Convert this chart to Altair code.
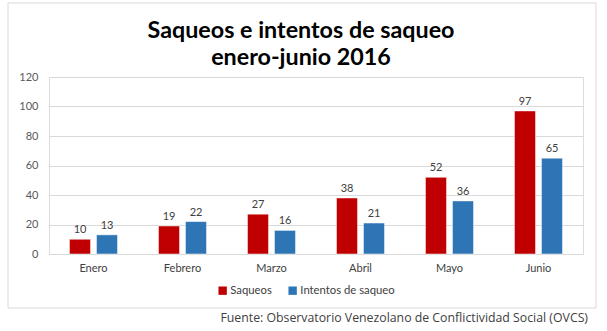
import altair as alt
import pandas as pd

months = ["Enero", "Febrero", "Marzo", "Abril", "Mayo", "Junio"]
saqueos = [10, 19, 27, 38, 52, 97]
intentos = [13, 22, 16, 21, 36, 65]
series = ["Saqueos", "Intentos de saqueo"]
colors = ["#C00000", "#2E75B6"]
y_ticks = [0, 20, 40, 60, 80, 100, 120]
title_lines = ["Saqueos e intentos de saqueo", "enero-junio 2016"]
source_text = "Fuente: Observatorio Venezolano de Conflictividad Social (OVCS)"

rows = []
for i, m in enumerate(months):
    rows.append({"mes": m, "serie": series[0], "valor": saqueos[i]})
    rows.append({"mes": m, "serie": series[1], "valor": intentos[i]})
df = pd.DataFrame(rows)

FONT = "Lato"

x = alt.X("mes:N", sort=months, title=None,
          scale=alt.Scale(paddingInner=0.46, paddingOuter=0.23),
          axis=alt.Axis(labelAngle=0, domain=False, ticks=False, labelPadding=8,
                        labelFontSize=11, labelColor="#404040", labelFont=FONT))
xoff = alt.XOffset("serie:N", sort=series, scale=alt.Scale(paddingInner=0.22))
y = alt.Y("valor:Q", title=None,
          scale=alt.Scale(domain=[0, 120], nice=False),
          axis=alt.Axis(values=y_ticks, domain=False, ticks=False, labelPadding=11,
                        gridColor="#D9D9D9", labelFontSize=11, labelColor="#595959",
                        labelFont=FONT))
color = alt.Color("serie:N", sort=series,
                  scale=alt.Scale(domain=series, range=colors),
                  legend=alt.Legend(title=None, orient="none", direction="horizontal",
                                    legendX=168, legendY=208, symbolType="square",
                                    symbolSize=70, symbolStrokeWidth=0,
                                    labelFontSize=11.3, labelColor="#404040",
                                    labelFont=FONT, columnPadding=15, symbolOffset=0,
                                    labelOffset=2))

base = alt.Chart(df)
bars = base.mark_bar(stroke="white", strokeWidth=0.5).encode(x=x, xOffset=xoff, y=y, color=color)
labels = base.mark_text(dy=-9, fontSize=11, color="#404040", font=FONT).encode(
    x=x, xOffset=xoff, y=y, text="valor:Q")

border = alt.Chart(alt.Data(values=[{"a": 1}])).mark_rect(
    fill=None, stroke="#D9D9D9", strokeWidth=1).encode(
    x=alt.value(-41), x2=alt.value(547), y=alt.value(-74), y2=alt.value(231))

title1 = alt.Chart(alt.Data(values=[{"t": title_lines[0]}])).mark_text(
    align="center", baseline="middle", fontSize=23.3, fontWeight="bold", color="#000000",
    font=FONT).encode(x=alt.value(252), y=alt.value(-46), text="t:N")
title2 = alt.Chart(alt.Data(values=[{"t": title_lines[1]}])).mark_text(
    align="center", baseline="middle", fontSize=23.3, fontWeight="bold", color="#000000",
    font=FONT).encode(x=alt.value(252), y=alt.value(-19), text="t:N")

source = alt.Chart(alt.Data(values=[{"t": source_text}])).mark_text(
    align="right", baseline="middle", fontSize=12.3, color="#404040", font="Open Sans").encode(
    x=alt.value(539), y=alt.value(241), text="t:N")

chart = alt.layer(border, bars, labels, title1, title2, source).properties(
    width=534, height=177,
    autosize=alt.AutoSizeParams(type="none"),
    padding={"left": 49, "top": 77, "right": 24, "bottom": 77},
).configure_view(stroke=None).configure(background="white")

chart.save("out.html", embed_options={"renderer": "svg", "actions": False})
